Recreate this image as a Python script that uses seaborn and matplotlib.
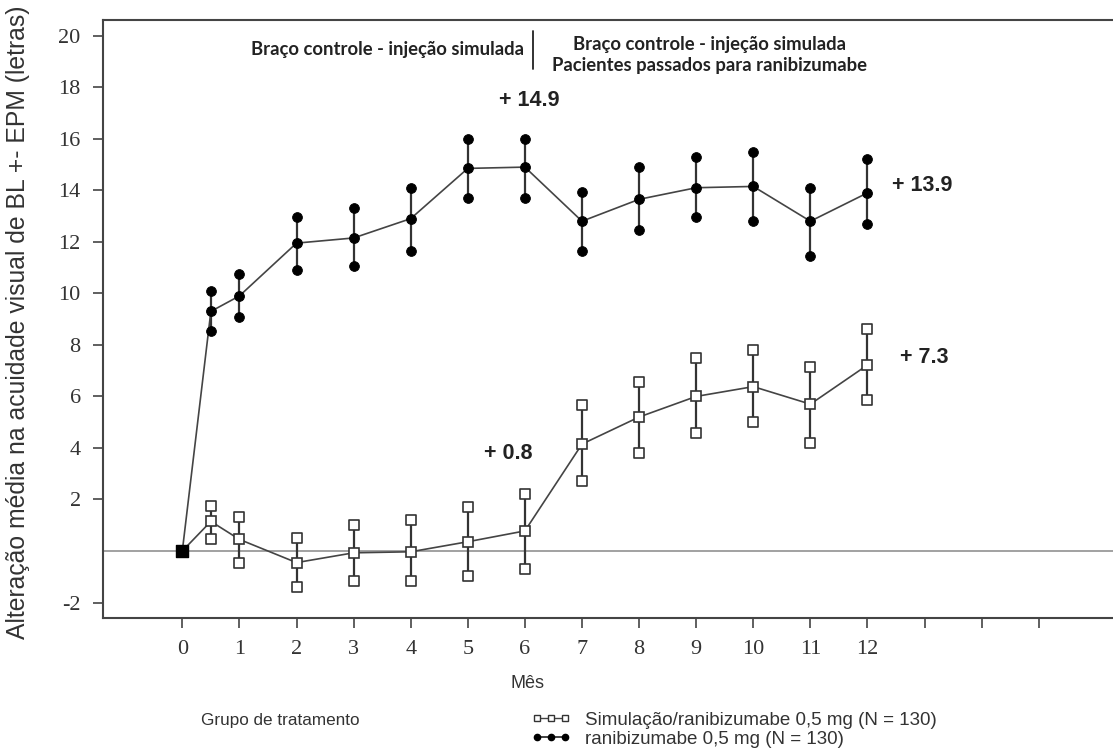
import numpy as np
import pandas as pd
import seaborn as sns
import matplotlib.pyplot as plt
from matplotlib.lines import Line2D

# meses de visita (0.5 = semana 2)
meses = [0, 0.5, 1, 2, 3, 4, 5, 6, 7, 8, 9, 10, 11, 12]

# ranibizumabe 0,5 mg
rani_media = [0, 9.3, 9.9, 11.95, 12.15, 12.9, 14.85, 14.9, 12.8, 13.65, 14.1, 14.15, 12.8, 13.9]
rani_sup = [0, 10.1, 10.75, 12.95, 13.3, 14.1, 16.0, 16.0, 13.95, 14.9, 15.3, 15.5, 14.1, 15.2]
rani_inf = [0, 8.55, 9.1, 10.9, 11.05, 11.65, 13.7, 13.7, 11.65, 12.45, 12.95, 12.8, 11.45, 12.7]

# simulacao / ranibizumabe 0,5 mg
sim_media = [0, 1.15, 0.45, -0.45, -0.07, -0.03, 0.36, 0.78, 4.15, 5.2, 6.0, 6.38, 5.7, 7.22]
sim_sup = [0, 1.75, 1.33, 0.5, 1.0, 1.2, 1.72, 2.2, 5.66, 6.55, 7.48, 7.8, 7.16, 8.6]
sim_inf = [0, 0.45, -0.45, -1.38, -1.18, -1.15, -0.97, -0.7, 2.7, 3.82, 4.57, 5.02, 4.18, 5.85]

rotulos = ["+ 14.9", "+ 13.9", "+ 7.3", "+ 0.8"]
rot_x = [6.07, 12.95, 13.0, 5.7]
rot_y = [17.5, 14.2, 7.5, 3.8]

sns.set_style("white")
plt.rcParams["axes.unicode_minus"] = False

df = pd.DataFrame({
    "mes": meses * 2,
    "media": rani_media + sim_media,
    "sup": rani_sup + sim_sup,
    "inf": rani_inf + sim_inf,
    "grupo": ["rani"] * len(meses) + ["sim"] * len(meses),
})

fig = plt.figure(figsize=(11.13, 7.5), dpi=100)
ax = fig.add_axes([0.0925, 0.176, 0.9075, 0.797])

ax.axhline(0, color="#888888", lw=1.1, zorder=1)

# barras de erro
for g, d in df.groupby("grupo"):
    ax.vlines(d["mes"], d["inf"], d["sup"], color="#333333", lw=1.6, zorder=2)

sns.lineplot(data=df, x="mes", y="media", hue="grupo", style="grupo",
             palette={"rani": "#444444", "sim": "#444444"},
             markers={"rani": "o", "sim": "s"}, dashes=False, lw=1.2,
             markersize=7, legend=False, ax=ax, zorder=3)
# ajustar marcadores
for ln in ax.get_lines():
    if ln.get_marker() == "o":
        ln.set_markerfacecolor("black")
        ln.set_markeredgecolor("black")
        ln.set_markersize(7)
    elif ln.get_marker() == "s":
        ln.set_markerfacecolor("white")
        ln.set_markeredgecolor("#333333")
        ln.set_markeredgewidth(1.2)
        ln.set_markersize(7.5)

rani = df[df["grupo"] == "rani"].iloc[1:]
sim = df[df["grupo"] == "sim"].iloc[1:]
for col in ["sup", "inf"]:
    sns.scatterplot(x=rani["mes"], y=rani[col], marker="o", color="black",
                    s=50, edgecolor="black", ax=ax, zorder=4, legend=False)
    sns.scatterplot(x=sim["mes"], y=sim[col], marker="s", facecolor="white",
                    edgecolor="#333333", linewidth=1.2, s=50, ax=ax, zorder=4, legend=False)
ax.scatter([meses[0]], [sim_media[0]], marker="s", color="black", s=70, zorder=5)

ax.set_xlim(-1.39, 16.3)
ax.set_ylim(-2.6, 20.6)
ax.set_xticks(list(range(0, 16)))
ax.set_xticklabels([str(i) for i in range(0, 13)] + ["", "", ""])
ax.set_yticks([-2, 2, 4, 6, 8, 10, 12, 14, 16, 18, 20])
ax.set_yticks(list(range(-1, 20, 2)), minor=True)
ax.tick_params(axis="both", which="major", direction="out", length=7, width=1.2,
               color="#444444", labelsize=16, pad=9)
ax.tick_params(axis="y", which="minor", direction="out", length=4, width=1, color="#444444")
ax.tick_params(axis="both", bottom=True, left=True)
for lab in ax.get_xticklabels() + ax.get_yticklabels():
    lab.set_family("Liberation Serif")
    lab.set_color("#333333")

for s in ["left", "bottom", "top"]:
    ax.spines[s].set_color("#444444")
    ax.spines[s].set_linewidth(1.5)
ax.spines["right"].set_visible(False)

ax.set_xlabel("")
ax.set_ylabel("Alteração média na acuidade visual de BL +- EPM (letras)",
              fontsize=17.8, family="Liberation Sans", color="#333333")
ax.yaxis.set_label_coords(-0.072, 0.495)

for t, x, y in zip(rotulos, rot_x, rot_y):
    ax.text(x, y, t, ha="center", va="center", fontsize=15.5, fontweight="bold",
            family="Liberation Sans", color="#222222")

ax.text(3.6, 19.45, "Braço controle - injeção simulada", ha="center", va="center",
        fontsize=13.3, fontweight="bold", family="Lato", color="#222222")
ax.text(9.23, 19.25, "Braço controle - injeção simulada\nPacientes passados para ranibizumabe",
        ha="center", va="center", fontsize=13.3, fontweight="bold", family="Lato",
        color="#222222", linespacing=1.35)
ax.plot([6.14, 6.14], [18.7, 20.2], color="#222222", lw=1.3)

fig.text(0.474, 0.089, "Mês", ha="center", va="center", fontsize=13,
         family="Liberation Sans", color="#333333")
fig.text(0.252, 0.039, "Grupo de tratamento", ha="center", va="center",
         fontsize=12.3, family="Liberation Sans", color="#333333")

h1 = Line2D([], [], color="#444444", lw=1, marker="s", markerfacecolor="white",
            markeredgecolor="#333333", markersize=4.5)
h2 = Line2D([], [], color="#222222", lw=1.2, marker="o", markerfacecolor="black",
            markeredgecolor="black", markersize=4.5)
leg = fig.legend([h1, h2], ["Simulação/ranibizumabe 0,5 mg (N = 130)",
                            "ranibizumabe 0,5 mg (N = 130)"],
                 loc="center left", bbox_to_anchor=(0.462, 0.027), frameon=False,
                 numpoints=3, handlelength=2.1, handletextpad=0.8, labelspacing=0.12,
                 prop={"family": "Liberation Sans", "size": 13.5})
for t in leg.get_texts():
    t.set_color("#333333")

fig.savefig("out.png", dpi=100, facecolor="white")
